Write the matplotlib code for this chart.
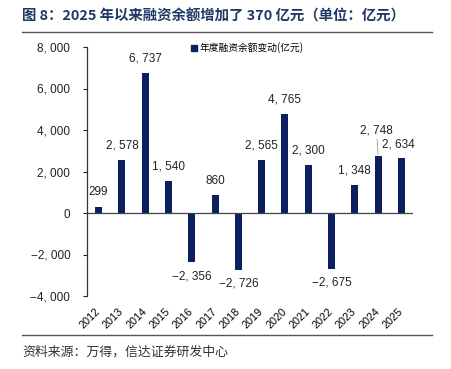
import matplotlib
matplotlib.use("Agg")
import matplotlib.pyplot as plt
from matplotlib.lines import Line2D

plt.rcParams['font.family'] = ['Noto Sans CJK SC', 'DejaVu Sans']

years = ['2012', '2013', '2014', '2015', '2016', '2017', '2018', '2019',
         '2020', '2021', '2022', '2023', '2024', '2025']
values = [299, 2578, 6737, 1540, -2356, 860, -2726, 2565,
          4765, 2300, -2675, 1348, 2748, 2634]
yticks = [-4000, -2000, 0, 2000, 4000, 6000, 8000]
title = '图 8：2025 年以来融资余额增加了 370 亿元（单位：亿元）'
legend_label = '年度融资余额变动(亿元)'
source = '资料来源：万得，信达证券研发中心'

fmt = lambda v: f'{v:,}'.replace(',', ', ').replace('-', '\u2212')
num_font = ['Liberation Sans', 'DejaVu Sans']

fig = plt.figure(figsize=(4.51, 3.69), dpi=100)
ax = fig.add_axes([87/451, 1-296/369, 326/451, (296-47)/369])

color = '#0c1f5e'
x = list(range(len(years)))
ax.bar(x, values, width=0.3, color=color, zorder=3)
n = len(values)
lab_kw = dict(fontsize=8.5, family=num_font, color='#222222', ha='center',
              textcoords='offset points')
for i, (xi, v) in enumerate(zip(x, values)):
    if i == n - 2:
        ax.annotate(fmt(v), xy=(xi, v), xytext=(-1, 14), va='bottom',
                    arrowprops=dict(arrowstyle='-', color='#aaaaaa', lw=0.7,
                                    shrinkA=0, shrinkB=1), **lab_kw)
    elif i == n - 1:
        ax.annotate(fmt(v), xy=(xi, v), xytext=(-2.5, 6), va='bottom', **lab_kw)
    elif v >= 0:
        ax.annotate(fmt(v), xy=(xi, v), xytext=(0, 6), va='bottom', **lab_kw)
    else:
        ax.annotate(fmt(v), xy=(xi, v), xytext=(0, -6), va='top', **lab_kw)

ax.set_xlim(-0.5, len(years) - 0.5)
ax.set_ylim(-4000, 8000)
ax.set_yticks(yticks)
ax.set_yticklabels([fmt(t) for t in yticks], fontsize=8.5, family=num_font)
ax.axhline(0, color='#444444', lw=0.9, zorder=4)
for s in ['top', 'right', 'bottom']:
    ax.spines[s].set_visible(False)
ax.spines['left'].set_color('#333333')
ax.spines['left'].set_linewidth(0.9)
ax.tick_params(axis='y', length=3, width=0.8, pad=9, colors='#222222')
ax.set_xticks(x)
ax.set_xticklabels(years, rotation=45, fontsize=7.8, family=num_font,
                   ha='right', va='center', rotation_mode='anchor')
ax.tick_params(axis='x', length=0, pad=10)

handle = Line2D([], [], marker='s', color=color, linestyle='None', markersize=4.5)
ax.legend([handle], [legend_label], loc='upper left', bbox_to_anchor=(0.305, 1.035),
          frameon=False, fontsize=7, handletextpad=0.1, handlelength=0.8, borderaxespad=0)

fig.text(22/451, 1-16/369, title, fontsize=10.4, fontweight='bold', color='#1f3864', va='center')
fig.add_artist(Line2D([22/451, 432/451], [1-32/369, 1-32/369], color='#555555', lw=1))
fig.add_artist(Line2D([22/451, 432/451], [1-335/369, 1-335/369], color='#555555', lw=1))
fig.text(22/451, 1-352/369, source, fontsize=9.3, color='#333333', va='center')

fig.savefig('out.png', dpi=100)
